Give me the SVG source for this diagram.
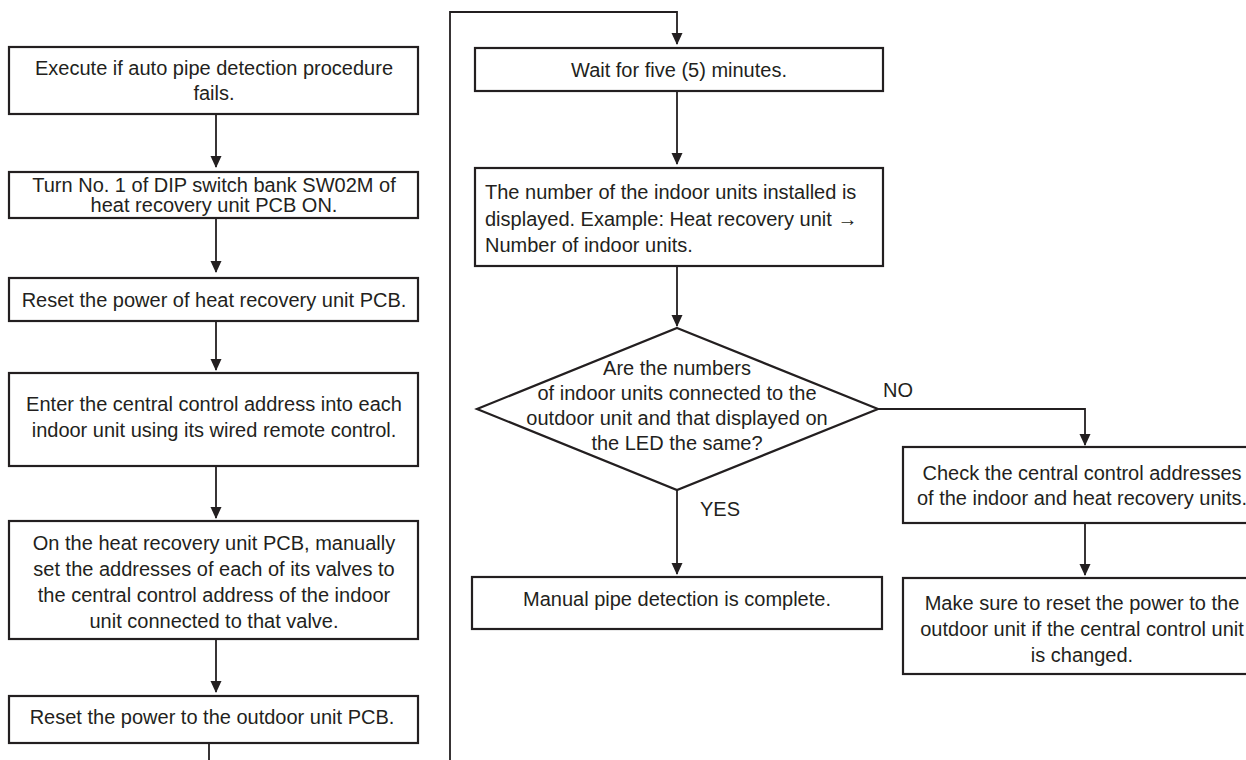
<svg xmlns="http://www.w3.org/2000/svg" width="1246" height="760" viewBox="0 0 1246 760">
<defs>
<marker id="arr" markerUnits="userSpaceOnUse" markerWidth="12" markerHeight="12" viewBox="0 0 12 12" refX="11" refY="6" orient="auto">
<path d="M0,0.5 L12,6 L0,11.5 z" fill="#231f20"/>
</marker>
<style>
.box{fill:#fff;stroke:#231f20;stroke-width:2.2}
.t{font-family:"Liberation Sans",Arial,sans-serif;font-size:20px;fill:#231f20;text-anchor:middle}
.l{text-anchor:start}
.c{fill:none;stroke:#231f20;stroke-width:1.8}
</style>
</defs>
<rect width="1246" height="760" fill="#fff"/>
<g id="connectors">
<line class="c" x1="216" y1="114" x2="216" y2="167" marker-end="url(#arr)"/>
<line class="c" x1="216" y1="218" x2="216" y2="272" marker-end="url(#arr)"/>
<line class="c" x1="216" y1="321" x2="216" y2="370" marker-end="url(#arr)"/>
<line class="c" x1="216" y1="466" x2="216" y2="518" marker-end="url(#arr)"/>
<line class="c" x1="216" y1="639" x2="216" y2="692" marker-end="url(#arr)"/>
<line class="c" x1="209" y1="743" x2="209" y2="762"/>
<path class="c" d="M450,762 L450,12 L677,12 L677,44" marker-end="url(#arr)"/>
<line class="c" x1="677" y1="91" x2="677" y2="164" marker-end="url(#arr)"/>
<line class="c" x1="677" y1="266" x2="677" y2="326" marker-end="url(#arr)"/>
<line class="c" x1="677" y1="490" x2="677" y2="574" marker-end="url(#arr)"/>
<path class="c" d="M877,409 L1085,409 L1085,445" marker-end="url(#arr)"/>
<line class="c" x1="1085" y1="523" x2="1085" y2="575" marker-end="url(#arr)"/>
<text class="t" x="883" y="397" style="text-anchor:start">NO</text>
<text class="t" x="700" y="516" style="text-anchor:start">YES</text>
</g>
<g id="n1">
<rect class="box" x="9" y="47" width="409" height="67"/>
<text class="t" x="214" y="75">Execute if auto pipe detection procedure</text>
<text class="t" x="214" y="100">fails.</text>
</g>
<g id="n2">
<rect class="box" x="9" y="172" width="409" height="46"/>
<text class="t" x="214" y="192">Turn No. 1 of DIP switch bank SW02M of</text>
<text class="t" x="214" y="212">heat recovery unit PCB ON.</text>
</g>
<g id="n3">
<rect class="box" x="9" y="278" width="409" height="43"/>
<text class="t" x="214" y="307">Reset the power of heat recovery unit PCB.</text>
</g>
<g id="n4">
<rect class="box" x="9" y="373" width="409" height="93"/>
<text class="t" x="214" y="411">Enter the central control address into each</text>
<text class="t" x="214" y="437">indoor unit using its wired remote control.</text>
</g>
<g id="n5">
<rect class="box" x="9" y="521" width="409" height="118"/>
<text class="t" x="214" y="550">On the heat recovery unit PCB, manually</text>
<text class="t" x="214" y="576">set the addresses of each of its valves to</text>
<text class="t" x="214" y="602">the central control address of the indoor</text>
<text class="t" x="214" y="628">unit connected to that valve.</text>
</g>
<g id="n6">
<rect class="box" x="9" y="696" width="409" height="47"/>
<text class="t" x="212" y="724">Reset the power to the outdoor unit PCB.</text>
</g>
<g id="n7">
<rect class="box" x="475" y="48" width="408" height="43"/>
<text class="t" x="679" y="77">Wait for five (5) minutes.</text>
</g>
<g id="n8">
<rect class="box" x="475" y="168" width="408" height="98"/>
<text class="t l" x="485" y="199">The number of the indoor units installed is</text>
<text class="t l" x="485" y="226">displayed. Example: Heat recovery unit →</text>
<text class="t l" x="485" y="252">Number of indoor units.</text>
</g>
<g id="n9">
<polygon class="box" points="677,328 878,409 677,490 477,409"/>
<text class="t" x="677" y="375">Are the numbers</text>
<text class="t" x="677" y="400">of indoor units connected to the</text>
<text class="t" x="677" y="425">outdoor unit and that displayed on</text>
<text class="t" x="677" y="450">the LED the same?</text>
</g>
<g id="n10">
<rect class="box" x="472" y="577" width="410" height="52"/>
<text class="t" x="677" y="606">Manual pipe detection is complete.</text>
</g>
<g id="n11">
<rect class="box" x="903" y="447" width="360" height="76"/>
<text class="t" x="1082" y="480">Check the central control addresses</text>
<text class="t" x="1082" y="505">of the indoor and heat recovery units.</text>
</g>
<g id="n12">
<rect class="box" x="903" y="578" width="360" height="96"/>
<text class="t" x="1082" y="610">Make sure to reset the power to the</text>
<text class="t" x="1082" y="636">outdoor unit if the central control unit</text>
<text class="t" x="1082" y="662">is changed.</text>
</g>
</svg>
